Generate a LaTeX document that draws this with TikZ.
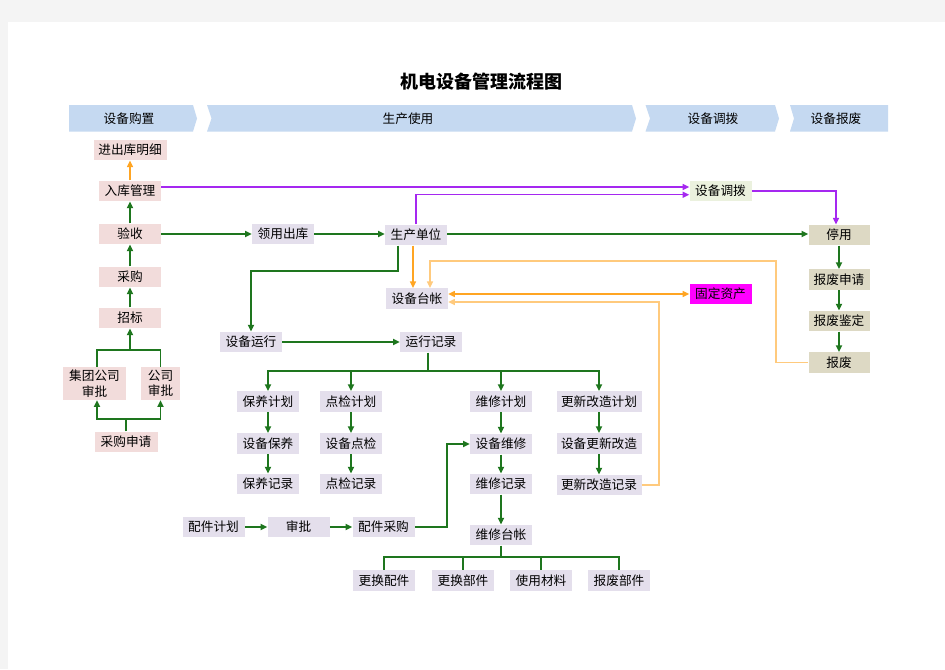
\documentclass[tikz,border=0pt]{standalone}
\usepackage{fontspec}
\setmainfont{Noto Sans CJK SC}
\usetikzlibrary{arrows.meta}

\definecolor{pagegrey}{RGB}{244,244,244}
\definecolor{bannerblue}{RGB}{197,217,241}
\definecolor{boxpink}{RGB}{242,220,219}
\definecolor{boxlav}{RGB}{228,223,236}
\definecolor{boxtan}{RGB}{221,217,196}
\definecolor{boxlgreen}{RGB}{235,241,222}
\definecolor{boxmagenta}{RGB}{255,0,255}
\definecolor{linegreen}{RGB}{30,118,30}
\definecolor{linepurple}{RGB}{165,40,240}
\definecolor{lineorange}{RGB}{255,165,35}
\definecolor{linelorange}{RGB}{255,202,125}

\begin{document}
\begin{tikzpicture}[x=0.75pt,y=0.75pt,yscale=-1,xscale=1,
  box/.style={rectangle,inner sep=0pt,minimum width=46.5pt,minimum height=15.4pt,font=\fontsize{9.5}{11.5}\selectfont},
  pinkbox/.style={box,fill=boxpink},
  lavbox/.style={box,fill=boxlav},
  tanbox/.style={box,fill=boxtan},
  banner/.style={fill=bannerblue},
  bannertext/.style={font=\fontsize{9.5}{11.5}\selectfont},
  tip/.style={-{Triangle[length=5pt,width=4.5pt]}},
  gline/.style={draw=linegreen,line width=1.4pt},
  garrow/.style={gline,tip},
  parrow/.style={draw=linepurple,line width=1.1pt,tip},
  oarrow/.style={draw=lineorange,line width=1.1pt,tip},
  oboth/.style={draw=lineorange,line width=1.1pt,{Triangle[length=5pt,width=4.5pt]}-{Triangle[length=5pt,width=4.5pt]}},
  loarrow/.style={draw=linelorange,line width=1.1pt,tip}]
\useasboundingbox (0,0) rectangle (945,669);

%Shape: page
\fill[pagegrey] (0,0) rectangle (945,669);
\fill[white] (8,22) rectangle (945,669);

% Title
\node (title) at (481,82) {\fontsize{13.5}{16}\selectfont\bfseries 机电设备管理流程图};

%Shape: banners
\fill[banner] (69,105) -- (193,105) -- (197,118.5) -- (193,131.5) -- (69,131.5) -- cycle;
\fill[banner] (207,105) -- (632,105) -- (636,118.5) -- (632,131.5) -- (207,131.5) -- (211.5,118.5) -- cycle;
\fill[banner] (645.5,105) -- (775,105) -- (779,118.5) -- (775,131.5) -- (645.5,131.5) -- (650,118.5) -- cycle;
\fill[banner] (790,105) -- (888,105) -- (888,131.5) -- (790,131.5) -- (794,118.5) -- cycle;
\node[bannertext] (hgz) at (129,119) {设备购置};
\node[bannertext] (hsy) at (408,119) {生产使用};
\node[bannertext] (hdb) at (713,119) {设备调拨};
\node[bannertext] (hbf) at (836,119) {设备报废};

% purchase column
\node[pinkbox,minimum width=54.75pt] (jckmx) at (130,150) {进出库明细};
\node[pinkbox] (rkgl) at (130,191) {入库管理};
\node[pinkbox] (ys) at (130,234) {验收};
\node[pinkbox] (cg) at (130,277) {采购};
\node[pinkbox] (zb) at (130,318) {招标};
\node[pinkbox,minimum width=47.25pt,minimum height=24.75pt,align=center] (jtsp) at (94.5,383.5) {集团公司\\审批};
\node[pinkbox,minimum width=29.25pt,minimum height=24.75pt,align=center] (gssp) at (160.5,383.5) {公司\\审批};
\node[pinkbox,minimum width=47.25pt] (cgsq) at (126,442) {采购申请};

% production
\node[lavbox] (lyck) at (283,234) {领用出库};
\node[lavbox] (scdw) at (416,235) {生产单位};
\node[lavbox] (sbtz) at (417,298.5) {设备台帐};
\node[box,fill=boxmagenta] (gdzc) at (720.5,294) {固定资产};
\node[box,fill=boxlgreen] (dbbox) at (720.5,191) {设备调拨};
\node[lavbox] (sbyx) at (251,342) {设备运行};
\node[lavbox] (yxjl) at (431,342) {运行记录};

\node[lavbox] (byjh) at (268,401.5) {保养计划};
\node[lavbox] (sbby) at (268,443.5) {设备保养};
\node[lavbox] (byjl) at (268,484) {保养记录};
\node[lavbox] (djjh) at (351,401.5) {点检计划};
\node[lavbox] (sbdj) at (351,443.5) {设备点检};
\node[lavbox] (djjl) at (351,484) {点检记录};
\node[lavbox] (wxjh) at (501,401.5) {维修计划};
\node[lavbox] (sbwx) at (501,444) {设备维修};
\node[lavbox] (wxjl) at (501,484) {维修记录};
\node[lavbox] (wxtz) at (501,535) {维修台帐};
\node[lavbox,minimum width=63.75pt] (gxjh) at (599,401.5) {更新改造计划};
\node[lavbox,minimum width=63.75pt] (sbgx) at (599,443.5) {设备更新改造};
\node[lavbox,minimum width=63.75pt] (gxjl) at (599,485) {更新改造记录};

\node[lavbox] (pjjh) at (213.5,527) {配件计划};
\node[lavbox] (sp) at (298.5,527) {审批};
\node[lavbox] (pjcg) at (383.5,527) {配件采购};

\node[lavbox] (ghpj) at (384,580.5) {更换配件};
\node[lavbox] (ghbj) at (463,580.5) {更换部件};
\node[lavbox] (sycl) at (541,580.5) {使用材料};
\node[lavbox] (bfbj) at (619,580.5) {报废部件};

% scrapping
\node[tanbox,minimum width=45.75pt] (tingy) at (839,235) {停用};
\node[tanbox,minimum width=45.75pt] (bfsq) at (839,279.5) {报废申请};
\node[tanbox,minimum width=45.75pt] (bfjd) at (839,321) {报废鉴定};
\node[tanbox,minimum width=45.75pt] (bf) at (839,362.5) {报废};

% turning points
\coordinate (zbjoin) at (130,350);
\coordinate (sqjoin) at (126,419);
\coordinate (yxturn) at (398,271);
\coordinate (bfturn) at (776,261);
\coordinate (gxturn) at (659,302);
\coordinate (planbus) at (428,371);
\coordinate (pjturn) at (447,0);
\coordinate (tzbus) at (501,557);

% purchase links
\draw[garrow] (cg) -- (ys);
\draw[garrow] (zb) -- (cg);
\draw[garrow] (ys) -- (rkgl);
\draw[oarrow] (rkgl) -- (jckmx);
\draw[gline] (jtsp.north -| 97,0) |- (zbjoin) -| (gssp.north);
\draw[garrow] (zbjoin) -- (zb);
\draw[gline] (cgsq) -- (sqjoin);
\draw[garrow] (sqjoin) -| (jtsp.south -| 97,0);
\draw[garrow] (sqjoin) -| (gssp.south);

% main line
\draw[garrow] (ys) -- (lyck);
\draw[garrow] (lyck) -- (lyck -| scdw.west);
\draw[garrow] (scdw.east |- lyck) -- (tingy.west |- lyck);
\draw[parrow] ([yshift=-3pt]rkgl.east) -- ([yshift=-3pt]dbbox.west);
\draw[parrow] (scdw.north) |- ([yshift=2.8pt]dbbox.west);
\draw[parrow] (dbbox.east) -| ([xshift=-2.25pt]tingy.north);
\draw[garrow] (tingy) -- (bfsq);
\draw[garrow] (bfsq) -- (bfjd);
\draw[garrow] (bfjd) -- (bf);

% ledger
\draw[oarrow] ([xshift=-2.25pt]scdw.south) -- ([xshift=-2.25pt]scdw.south |- sbtz.north);
\draw[loarrow] (bf.west) -| (bfturn) -| ([xshift=9.75pt]sbtz.north);
\draw[oboth] (sbtz.east |- gdzc.west) -- (gdzc.west);
\draw[loarrow] (gxjl.east) -| (gxturn) -- (sbtz.east |- gxturn);

% operation
\draw[garrow] (scdw.south -| yxturn) -- (yxturn) -| (sbyx.north);
\draw[garrow] (sbyx) -- (yxjl);
\draw[gline] (yxjl.south -| planbus) -- (planbus);
\foreach \n in {byjh,djjh,wxjh,gxjh}
  \draw[garrow] (planbus) -| (\n.north);
\draw[garrow] (byjh) -- (sbby);
\draw[garrow] (sbby) -- (byjl);
\draw[garrow] (djjh) -- (sbdj);
\draw[garrow] (sbdj) -- (djjl);
\draw[garrow] (wxjh) -- (sbwx);
\draw[garrow] (sbwx) -- (wxjl);
\draw[garrow] (wxjl) -- (wxtz);
\draw[garrow] (gxjh) -- (sbgx);
\draw[garrow] (sbgx) -- (gxjl);

% spare parts
\draw[garrow] (pjjh) -- (sp);
\draw[garrow] (sp) -- (pjcg);
\draw[garrow] (pjcg.east) -| (pjturn |- sbwx.west) -- (sbwx.west);
\draw[gline] (wxtz) -- (tzbus);
\foreach \n in {ghpj,ghbj,sycl,bfbj}
  \draw[gline] (tzbus) -| (\n.north);

\end{tikzpicture}
\end{document}
